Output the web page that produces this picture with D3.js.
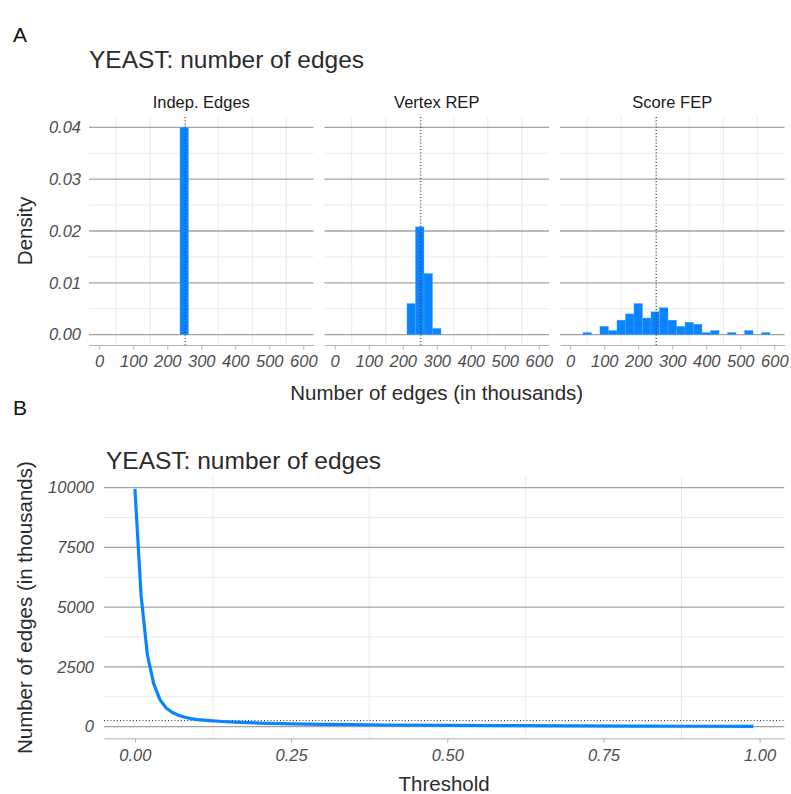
<!DOCTYPE html>
<html>
<head>
<meta charset="utf-8">
<script src="https://cdn.jsdelivr.net/npm/d3@7"></script>
<style>
  body { margin: 0; background: #fff; }
  svg { font-family: "Liberation Sans", Arial, sans-serif; }
  .tick text { font-style: italic; fill: #4d4d4d; }
</style>
</head>
<body>
<svg id="chart" width="791" height="794"></svg>
<script>
// ---- data ----
var facetNames = ["Indep. Edges", "Vertex REP", "Score FEP"];
var binWidth = 25;
// lower edge of each histogram bin (thousands of edges) and its density
var indepBins    = [237.5];
var indepDensity = [0.040];
var vertexBins    = [212.5, 237.5, 262.5, 287.5];
var vertexDensity = [0.0060, 0.0208, 0.0118, 0.0012];
var scoreBins    = [37.5, 62.5, 87.5, 112.5, 137.5, 162.5, 187.5, 212.5, 237.5, 262.5, 287.5,
                    312.5, 337.5, 362.5, 387.5, 412.5, 437.5, 462.5, 487.5, 512.5, 537.5, 562.5];
var scoreDensity = [0.0004, 0, 0.0016, 0.0008, 0.0028, 0.0040, 0.0060, 0.0032, 0.0044, 0.0052, 0.0028,
                    0.0016, 0.0024, 0.0020, 0.0004, 0.0008, 0, 0.0004, 0, 0.0008, 0, 0.0004];
var observedEdges = 253;   // dotted reference line
var xTicksA = [0, 100, 200, 300, 400, 500, 600];
var yTicksA = [0, 0.01, 0.02, 0.03, 0.04];

// threshold curve (panel B)
var thresholds = [0, 0.01, 0.02, 0.03, 0.04, 0.05, 0.06, 0.07, 0.08, 0.09, 0.10, 0.12, 0.14,
                  0.16, 0.18, 0.20, 0.25, 0.30, 0.35, 0.40, 0.50, 0.60, 0.70, 0.80, 0.90, 0.99];
var edgeCounts = [9950, 5450, 3000, 1800, 1130, 780, 590, 470, 390, 335, 295, 250, 215,
                  190, 170, 150, 118, 95, 80, 68, 52, 40, 32, 24, 15, 8];
var xTicksB = [0, 0.25, 0.5, 0.75, 1];
var yTicksB = [0, 2500, 5000, 7500, 10000];

var blue = "#0a84ff";
var majorGrid = "#a3a3a3", minorGrid = "#ebebeb", axisCol = "#b3b3b3";

var svg = d3.select("#chart");
svg.append("rect").attr("width", 791).attr("height", 794).attr("fill", "#fff");

// ================= panel A =================
var histData = [
  indepBins.map(function(b, i){ return {x0: b, d: indepDensity[i]}; }),
  vertexBins.map(function(b, i){ return {x0: b, d: vertexDensity[i]}; }),
  scoreBins.map(function(b, i){ return {x0: b, d: scoreDensity[i]}; })
];

var aLeft = 89, aRight = 784.5, aGap = 11, aTop = 117, aBottom = 345;
var pw = (aRight - aLeft - 2 * aGap) / 3;

var yA = d3.scaleLinear().domain([-0.002, 0.042]).range([aBottom, aTop]);

svg.append("text").attr("x", 13).attr("y", 41.5).attr("font-size", 21).attr("fill", "#111").text("A");
svg.append("text").attr("x", aLeft).attr("y", 68).attr("font-size", 24.5).attr("fill", "#2b2b2b")
  .text("YEAST: number of edges");

facetNames.forEach(function(name, f) {
  var x0 = aLeft + f * (pw + aGap);
  var xA = d3.scaleLinear().domain([-30, 630]).range([x0, x0 + pw]);
  var g = svg.append("g");

  // minor grid
  d3.range(50, 600, 100).forEach(function(v) {
    g.append("line").attr("x1", xA(v)).attr("x2", xA(v)).attr("y1", aTop).attr("y2", aBottom)
      .attr("stroke", minorGrid).attr("stroke-width", 1);
  });
  [0.005, 0.015, 0.025, 0.035].forEach(function(v) {
    g.append("line").attr("x1", x0).attr("x2", x0 + pw).attr("y1", yA(v)).attr("y2", yA(v))
      .attr("stroke", minorGrid).attr("stroke-width", 1);
  });
  // major grid
  yTicksA.forEach(function(v) {
    g.append("line").attr("x1", x0).attr("x2", x0 + pw).attr("y1", yA(v)).attr("y2", yA(v))
      .attr("stroke", majorGrid).attr("stroke-width", 1.3);
  });

  // bars
  g.selectAll("rect.bar").data(histData[f].filter(function(d){ return d.d > 0; }))
    .enter().append("rect")
    .attr("class", "bar")
    .attr("x", function(d){ return xA(d.x0); })
    .attr("width", function(d){ return xA(d.x0 + binWidth) - xA(d.x0); })
    .attr("y", function(d){ return yA(d.d); })
    .attr("height", function(d){ return yA(0) - yA(d.d); })
    .attr("fill", blue)
    .attr("stroke", "#4aa6ff").attr("stroke-width", 0.4);

  // dotted reference
  g.append("line").attr("x1", xA(observedEdges)).attr("x2", xA(observedEdges))
    .attr("y1", aTop).attr("y2", aBottom)
    .attr("stroke", "#333").attr("stroke-width", 1.1).attr("stroke-dasharray", "1,2.2");

  // x axis
  var ax = svg.append("g").attr("transform", "translate(0," + aBottom + ")")
    .call(d3.axisBottom(xA).tickValues(xTicksA).tickSize(4.5).tickSizeOuter(0).tickPadding(6));
  ax.select(".domain").attr("stroke", axisCol);
  ax.selectAll(".tick line").attr("stroke", axisCol);
  ax.selectAll(".tick text").attr("font-size", 16.5);

  // strip label
  svg.append("text").attr("x", x0 + pw / 2).attr("y", 108).attr("text-anchor", "middle")
    .attr("font-size", 16.5).attr("fill", "#1a1a1a").text(name);
});

var ayA = svg.append("g").attr("transform", "translate(" + aLeft + ",0)")
  .call(d3.axisLeft(yA).tickValues(yTicksA).tickFormat(d3.format(".2f")).tickSize(0).tickPadding(8));
ayA.select(".domain").remove();
ayA.selectAll(".tick text").attr("font-size", 16.5);

svg.append("text").attr("transform", "translate(32," + (aTop + aBottom) / 2 + ") rotate(-90)")
  .attr("text-anchor", "middle").attr("font-size", 20.5).attr("fill", "#2b2b2b").text("Density");
svg.append("text").attr("x", (aLeft + aRight) / 2).attr("y", 400).attr("text-anchor", "middle")
  .attr("font-size", 20.5).attr("fill", "#2b2b2b").text("Number of edges (in thousands)");

// ================= panel B =================
var bLeft = 104, bRight = 784.3, bTop = 477, bBottom = 738.3;
var xB = d3.scaleLinear().domain([-0.0495, 1.0395]).range([bLeft, bRight]);
var yB = d3.scaleLinear().domain([-489, 10447]).range([bBottom, bTop]);

svg.append("text").attr("x", 13).attr("y", 415).attr("font-size", 21).attr("fill", "#111").text("B");
svg.append("text").attr("x", bLeft + 2).attr("y", 469).attr("font-size", 24.5).attr("fill", "#2b2b2b")
  .text("YEAST: number of edges");

var gb = svg.append("g");
[0.125, 0.375, 0.625, 0.875].forEach(function(v) {
  gb.append("line").attr("x1", xB(v)).attr("x2", xB(v)).attr("y1", bTop).attr("y2", bBottom)
    .attr("stroke", minorGrid).attr("stroke-width", 1);
});
[1250, 3750, 6250, 8750].forEach(function(v) {
  gb.append("line").attr("x1", bLeft).attr("x2", bRight).attr("y1", yB(v)).attr("y2", yB(v))
    .attr("stroke", minorGrid).attr("stroke-width", 1);
});
yTicksB.forEach(function(v) {
  gb.append("line").attr("x1", bLeft).attr("x2", bRight).attr("y1", yB(v)).attr("y2", yB(v))
    .attr("stroke", majorGrid).attr("stroke-width", 1.3);
});

gb.append("line").attr("x1", bLeft).attr("x2", bRight)
  .attr("y1", yB(observedEdges)).attr("y2", yB(observedEdges))
  .attr("stroke", "#333").attr("stroke-width", 1.1).attr("stroke-dasharray", "1,2.2");

var curve = thresholds.map(function(t, i){ return [t, edgeCounts[i]]; });
gb.append("path").datum(curve)
  .attr("d", d3.line().x(function(d){ return xB(d[0]); }).y(function(d){ return yB(d[1]); }))
  .attr("fill", "none").attr("stroke", blue).attr("stroke-width", 3.2)
  .attr("stroke-linejoin", "round");

var axB = svg.append("g").attr("transform", "translate(0," + bBottom + ")")
  .call(d3.axisBottom(xB).tickValues(xTicksB).tickFormat(d3.format(".2f"))
    .tickSize(4.5).tickSizeOuter(0).tickPadding(6));
axB.select(".domain").attr("stroke", axisCol);
axB.selectAll(".tick line").attr("stroke", axisCol);
axB.selectAll(".tick text").attr("font-size", 16.5);

var ayB = svg.append("g").attr("transform", "translate(" + bLeft + ",0)")
  .call(d3.axisLeft(yB).tickValues(yTicksB).tickFormat(d3.format("d")).tickSize(0).tickPadding(10));
ayB.select(".domain").remove();
ayB.selectAll(".tick text").attr("font-size", 16.5);

svg.append("text").attr("transform", "translate(32," + (bTop + bBottom) / 2 + ") rotate(-90)")
  .attr("text-anchor", "middle").attr("font-size", 20.5).attr("fill", "#2b2b2b")
  .text("Number of edges (in thousands)");
svg.append("text").attr("x", (bLeft + bRight) / 2).attr("y", 791).attr("text-anchor", "middle")
  .attr("font-size", 20.5).attr("fill", "#2b2b2b").text("Threshold");
</script>
</body>
</html>
